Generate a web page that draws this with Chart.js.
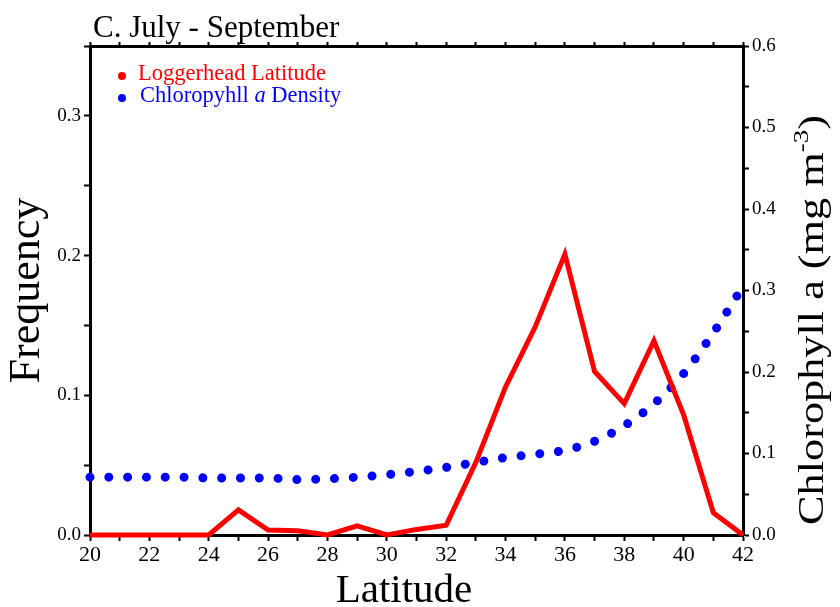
<!DOCTYPE html>
<html><head><meta charset="utf-8">
<script src="https://cdn.jsdelivr.net/npm/chart.js@4.4.1/dist/chart.umd.min.js"></script>
<style>html,body{margin:0;padding:0;background:#fff}#wrap{width:840px;height:607px}</style>
</head><body><div id="wrap"><canvas id="c" width="840" height="607"></canvas></div>
<script>
const latitudes = [20,21,22,23,24,25,26,27,28,29,30,31,32,33,34,35,36,37,38,39,40,41,42];
const loggerheadFreq = [0,0,0,0,0,0.018,0.0035,0.003,0,0.0065,0,0.004,0.007,0.052,0.106,0.149,0.201,0.117,0.094,0.139,0.086,0.016,0];
const chlorophyll = [0.071,0.071,0.071,0.071,0.070,0.070,0.070,0.068,0.069,0.071,0.074,0.078,0.083,0.089,0.095,0.099,0.104,0.115,0.134,0.161,0.198,0.248,0.305];
const titleText = 'C. July - September';
const seriesNames = ['Loggerhead Latitude', 'Chloropyhll ', 'a', ' Density'];
const xTitle = 'Latitude';
const yTitle = 'Frequency';
const y1Title = ['Chlorophyll a (mg m', '-3', ')'];

const FONT = "'Liberation Serif', 'Times New Roman', serif";
const RED = '#ff0000', BLUE = '#0000ff';

const fmt = v => { const r = Math.round(v * 100); return r % 10 === 0 ? (r / 100).toFixed(1) : ''; };

const textPlugin = {
  id: 'texts',
  afterDraw(chart) {
    const ctx = chart.ctx;
    ctx.save();
    ctx.fillStyle = '#000';
    ctx.textAlign = 'left';
    ctx.textBaseline = 'alphabetic';
    ctx.font = `31px ${FONT}`;
    ctx.fillText(titleText, 93, 37);
    ctx.font = `41px ${FONT}`;
    ctx.textAlign = 'center';
    ctx.fillText(xTitle, 404, 602);
    ctx.textAlign = 'left';
    ctx.beginPath(); ctx.fillStyle = RED; ctx.arc(122, 76, 4, 0, Math.PI * 2); ctx.fill();
    ctx.font = `22.5px ${FONT}`;
    ctx.fillText(seriesNames[0], 138, 80);
    ctx.beginPath(); ctx.fillStyle = BLUE; ctx.arc(122, 98, 4, 0, Math.PI * 2); ctx.fill();
    let x = 140;
    ctx.font = `22.5px ${FONT}`;
    ctx.fillText(seriesNames[1], x, 102); x += ctx.measureText(seriesNames[1]).width;
    ctx.font = `italic 22.5px ${FONT}`;
    ctx.fillText(seriesNames[2], x, 102); x += ctx.measureText(seriesNames[2]).width;
    ctx.font = `22.5px ${FONT}`;
    ctx.fillText(seriesNames[3], x, 102);
    ctx.fillStyle = '#000';
    ctx.translate(823, 525);
    ctx.rotate(-Math.PI / 2);
    const big = `36px ${FONT}`, small = `22px ${FONT}`;
    ctx.font = big; const w0 = ctx.measureText(y1Title[0]).width; const w2 = ctx.measureText(y1Title[2]).width;
    ctx.font = small; const w1 = ctx.measureText(y1Title[1]).width;
    const sx = 410 / (w0 + w1 + w2);
    ctx.scale(sx, 1);
    ctx.font = big; ctx.fillText(y1Title[0], 0, 0);
    ctx.font = small; ctx.fillText(y1Title[1], w0, -15);
    ctx.font = big; ctx.fillText(y1Title[2], w0 + w1, 0);
    ctx.restore();
  }
};

const tickFont = { family: FONT, size: 19 };
const gridOpts = { drawOnChartArea: false, drawTicks: true, tickLength: 6, tickWidth: 2, color: '#000' };
const borderOpts = { display: true, color: '#000', width: 3 };

new Chart(document.getElementById('c'), {
  type: 'line',
  data: {
    datasets: [
      {
        label: seriesNames[0],
        data: latitudes.map((l, i) => ({ x: l, y: loggerheadFreq[i] })),
        yAxisID: 'y', xAxisID: 'x',
        borderColor: RED, backgroundColor: RED, borderWidth: 5,
        pointRadius: 0, tension: 0, clip: false, fill: false
      },
      {
        label: seriesNames.slice(1).join(''),
        data: latitudes.map((l, i) => ({ x: l, y: chlorophyll[i] })),
        yAxisID: 'y1', xAxisID: 'x',
        borderColor: BLUE, backgroundColor: BLUE, borderWidth: 9,
        borderDash: [0.01, 18.8], borderCapStyle: 'round',
        pointRadius: 0, cubicInterpolationMode: 'monotone', clip: false, fill: false
      }
    ]
  },
  options: {
    responsive: false, animation: false, devicePixelRatio: 1,
    layout: { padding: 0 },
    plugins: { legend: { display: false }, title: { display: false }, tooltip: { enabled: false } },
    scales: {
      x: {
        type: 'linear', position: 'bottom', min: 20, max: 42,
        ticks: { stepSize: 1, autoSkip: false, maxRotation: 0, color: '#000', font: { family: FONT, size: 22 }, padding: 1,
          callback: v => (v % 2 === 0 ? String(v) : '') },
        grid: gridOpts, border: borderOpts,
        afterFit: s => { s.height = 72; }
      },
      x2: {
        type: 'linear', position: 'top', min: 20, max: 42,
        ticks: { stepSize: 1, autoSkip: false, maxRotation: 0, color: 'rgba(0,0,0,0)', font: { size: 1 }, callback: () => '' },
        grid: { drawOnChartArea: false, drawTicks: true, tickLength: 4, tickWidth: 2, color: '#000' }, border: borderOpts,
        afterFit: s => { s.height = 46; }
      },
      y: {
        type: 'linear', position: 'left', min: 0, max: 0.35,
        ticks: { stepSize: 0.05, autoSkip: false, color: '#000', font: tickFont, padding: 3, callback: fmt },
        grid: gridOpts, border: borderOpts,
        title: { display: true, text: yTitle, color: '#000', font: { family: FONT, size: 44, lineHeight: 1 }, padding: { top: 5, bottom: 0 } },
        afterFit: s => { s.width = 90; }
      },
      y1: {
        type: 'linear', position: 'right', min: 0, max: 0.6,
        ticks: { stepSize: 0.05, autoSkip: false, color: '#000', font: tickFont, padding: 3, callback: fmt },
        grid: gridOpts, border: borderOpts,
        afterFit: s => { s.width = 97; }
      }
    }
  },
  plugins: [textPlugin]
});
</script>
</body></html>
